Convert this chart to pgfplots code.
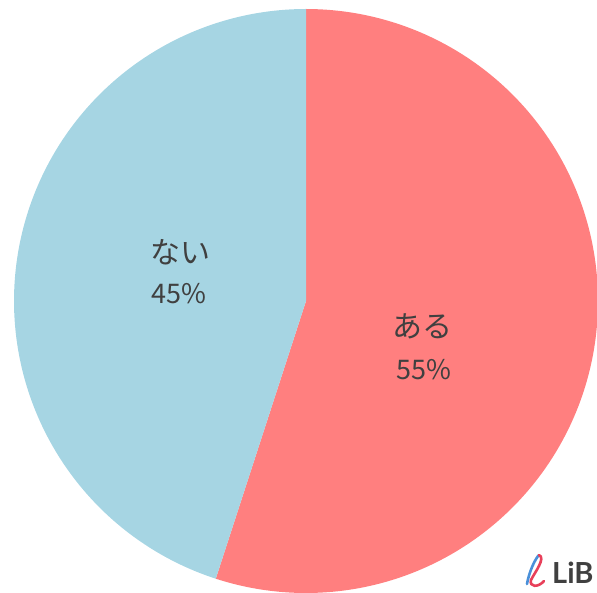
\documentclass[border=0pt]{standalone}
\usepackage{pgfplots}
\pgfplotsset{compat=1.18}
\usepackage{fontspec}
\setmainfont{Noto Sans CJK JP}
\newfontfamily\logofont{Lato}
\definecolor{pinkc}{HTML}{FF7F7F}
\definecolor{bluec}{HTML}{A6D5E3}
\definecolor{txt}{HTML}{404040}
\definecolor{logored}{HTML}{E8405A}
\definecolor{logoblue}{HTML}{4A90D9}
\def\valA{55}
\def\valB{45}
\begin{document}
\begin{tikzpicture}[x=1pt,y=1pt]
\useasboundingbox (0,0) rectangle (597,592);
\clip (0,0) rectangle (597,592);
\begin{axis}[at={(14pt,-1pt)}, anchor=south west, width=584pt, height=584pt,
  scale only axis, hide axis, xmin=-1, xmax=1, ymin=-1, ymax=1, clip=false]
\addplot[fill=pinkc, draw=none, domain=90:{90-3.6*\valA}, samples=240] ({cos(x)},{sin(x)}) -- (axis cs:0,0) -- cycle;
\addplot[fill=bluec, draw=none, domain=90:{90+3.6*\valB}, samples=240] ({cos(x)},{sin(x)}) -- (axis cs:0,0) -- cycle;
\end{axis}
\node[text=txt, font=\fontsize{30}{30}\selectfont] at (422,266) {ある};
\node[text=txt, font=\fontsize{27}{27}\selectfont] at (424,222) {55\%};
\node[text=txt, font=\fontsize{30}{30}\selectfont] at (180,340) {ない};
\node[text=txt, font=\fontsize{27}{27}\selectfont] at (179,298) {45\%};
% logo
\draw[logoblue, line width=2.6pt, line cap=round] (527,8) .. controls (529,20) and (535,33) .. (539,37);
\draw[logored, line width=2.6pt, line cap=round] (539,37) .. controls (546,34) and (535,20) .. (531,12) .. controls (529,5) and (538,4) .. (544,11);
\node[anchor=west, text=txt, font=\logofont\bfseries\fontsize{29}{29}\selectfont, inner sep=0pt] at (552,19) {LiB};
\end{tikzpicture}
\end{document}
